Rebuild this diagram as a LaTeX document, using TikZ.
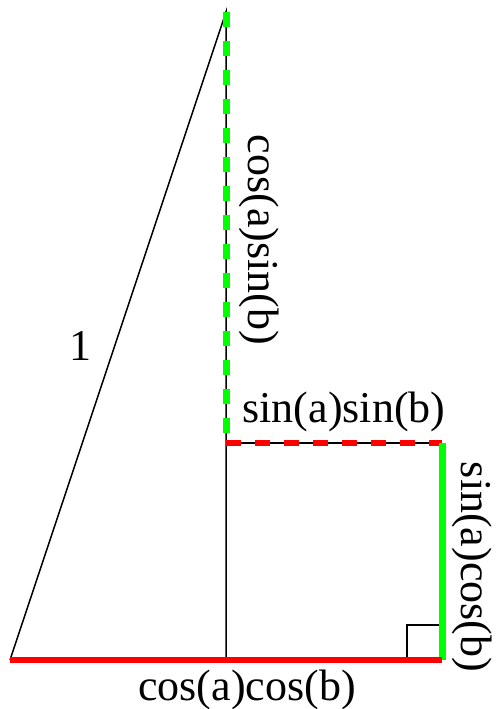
\documentclass[tikz,border=0pt]{standalone}
\usepackage{fontspec}
\setmainfont{Liberation Serif}
\begin{document}
\begin{tikzpicture}[x=1pt,y=-1pt,
  thin line/.style={line width=1.5pt,black},
  red solid/.style={line width=6.5pt,red},
  red dash/.style={line width=6.5pt,red,dash pattern=on 15pt off 14pt},
  green solid/.style={line width=7pt,green},
  green dash/.style={line width=7pt,green,dash pattern=on 15pt off 14pt},
  lbl/.style={font=\fontsize{44}{50}\selectfont,inner sep=0pt}]
\useasboundingbox (0,0) rectangle (495,709);
\coordinate (A) at (10,660);
\coordinate (B) at (226,12);
\coordinate (C) at (226,660);
\coordinate (D) at (226,443);
\coordinate (E) at (442,443);
\coordinate (F) at (442,660);
\coordinate (S1) at (407,660);
\coordinate (S2) at (407,625);
\coordinate (S3) at (442,625);
% black lines
\draw[thin line] (A) -- (B) -- (C);
\draw[thin line] (D) -- (E);
\draw[thin line] (S1) -- (S2) -- (S3);
% coloured
\draw[green dash] (B) -- (D);
\draw[red dash] (D) -- (E);
\draw[green solid] (E) -- (F);
\draw[red solid] (A) -- (F);
% labels
\node[lbl] (l1) at (80,346) {1};
\node[lbl,rotate=-90] (l2) at (259,240) {cos(a)sin(b)};
\node[lbl] (l3) at (344,412) {sin(a)sin(b)};
\node[lbl,rotate=-90] (l4) at (472,567) {sin(a)cos(b)};
\node[lbl] (l5) at (247,690) {cos(a)cos(b)};
\end{tikzpicture}
\end{document}
